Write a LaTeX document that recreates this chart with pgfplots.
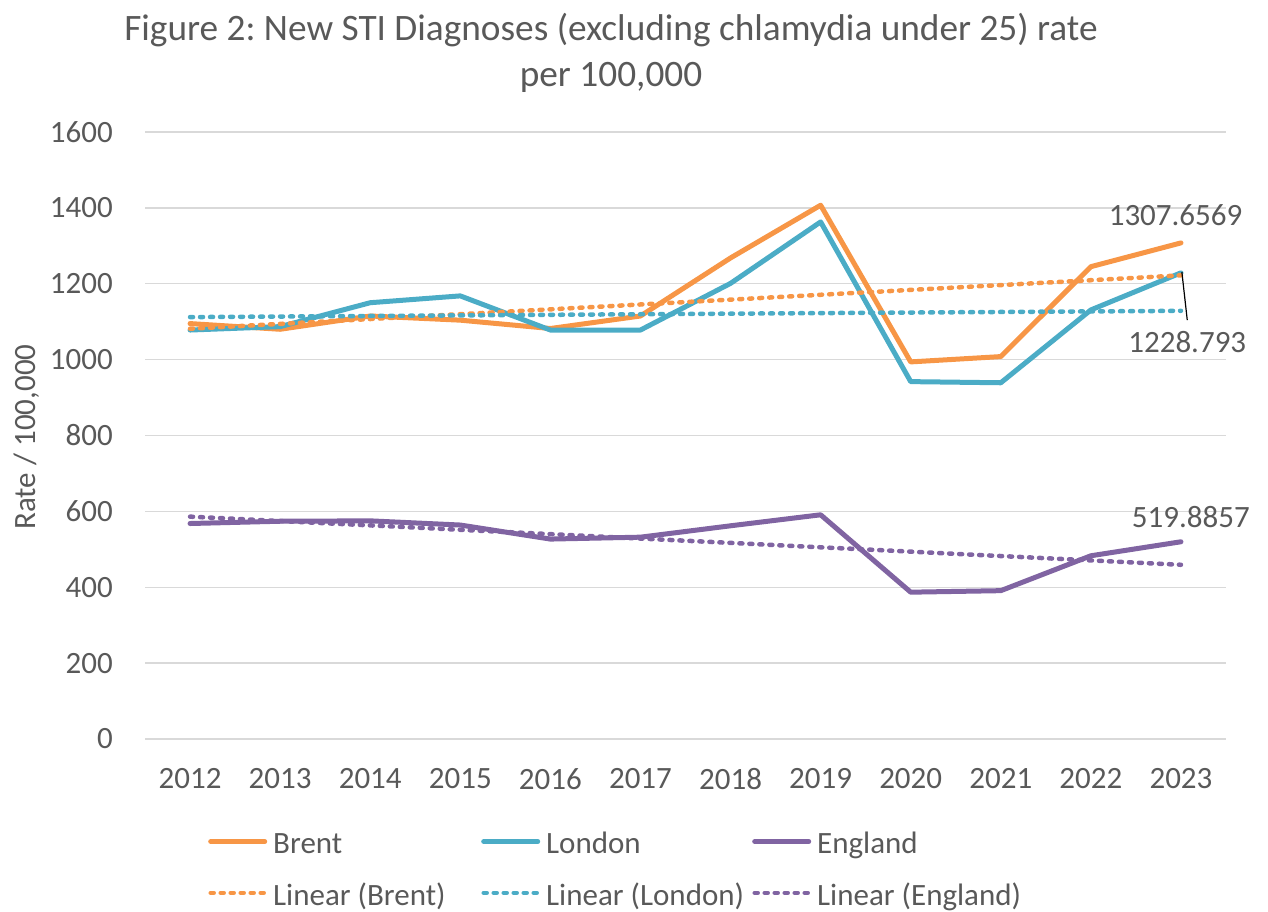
\documentclass[border=0pt]{standalone}
\usepackage{pgfplots}
\pgfplotsset{compat=1.18}
\usepackage{fontspec}
\setmainfont{Carlito}
\frenchspacing
\definecolor{cBrent}{HTML}{F79646}
\definecolor{cLondon}{HTML}{4BACC6}
\definecolor{cEngland}{HTML}{8064A2}
\definecolor{cText}{HTML}{595959}
\definecolor{cGrid}{HTML}{D9D9D9}
\begin{document}
\begin{tikzpicture}
\useasboundingbox (0,0) rectangle (1268pt,911pt);
\node[align=center, text=cText, font=\fontsize{37.3}{46}\selectfont, inner sep=0pt] at (611pt,858pt) {Figure 2: New STI Diagnoses (excluding chlamydia under 25) rate\\per 100,000};
\begin{axis}[
  at={(145pt,172pt)}, anchor=south west,
  scale only axis, width=1081pt, height=607pt,
  xmin=2011.5, xmax=2023.5, ymin=0, ymax=1600,
  xtick={2012,2013,...,2023}, ytick={0,200,...,1600},
  /pgf/number format/1000 sep={},
  /pgf/number format/assume math mode=true,
  ymajorgrids, grid style={cGrid, line width=1.5pt},
  axis line style={draw=none}, major tick length=0pt,
  tick label style={font=\fontsize{31}{37}\selectfont, text=cText, inner sep=0pt},
  yticklabel style={xshift=-32pt},
  xticklabel style={yshift=-29pt},
  ylabel={Rate / 100,000},
  every axis y label/.style={at={(axis description cs:-0.109,0.4975)}, rotate=90, anchor=center, font=\fontsize{31}{37}\selectfont, text=cText},
  clip=false,
  legend columns=3, legend cell align=left,
  legend image code/.code={\draw[#1] (0pt,0pt) -- (54pt,0pt);},
  legend style={at={(0.0583,-0.146)}, anchor=north west, draw=none, fill=none, inner sep=0pt,
    font=\fontsize{31}{37}\selectfont, text=cText, nodes={inner sep=0pt, anchor=west},
    row sep=24pt, column sep=0pt},
]
\addplot[cBrent, line width=5pt, line join=round, line cap=round] coordinates {
 (2012,1095) (2013,1080) (2014,1115) (2015,1104) (2016,1082) (2017,1115)
 (2018,1268) (2019,1407) (2020,994) (2021,1008) (2022,1245) (2023,1307.6569)};
\addlegendentry{\makebox[214pt][l]{\hspace{6pt}Brent\strut}}
\addplot[cLondon, line width=5pt, line join=round, line cap=round] coordinates {
 (2012,1078) (2013,1087) (2014,1150) (2015,1168) (2016,1078) (2017,1078)
 (2018,1201) (2019,1363) (2020,942) (2021,939) (2022,1131) (2023,1228.793)};
\addlegendentry{\makebox[212pt][l]{\hspace{6pt}London\strut}}
\addplot[cEngland, line width=5pt, line join=round, line cap=round] coordinates {
 (2012,568) (2013,574) (2014,575) (2015,564) (2016,527) (2017,532)
 (2018,562) (2019,591) (2020,387) (2021,391) (2022,483) (2023,519.8857)};
\addlegendentry{\makebox[212pt][l]{\hspace{6pt}England\strut}}
\addplot[cBrent, line width=4.5pt, line cap=round, dash pattern=on 3pt off 7pt] coordinates {(2012,1081.4) (2023,1222.1)};
\addlegendentry{\makebox[214pt][l]{\hspace{6pt}Linear (Brent)\strut}}
\addplot[cLondon, line width=4.5pt, line cap=round, dash pattern=on 3pt off 7pt] coordinates {(2012,1112.1) (2023,1128.6)};
\addlegendentry{\makebox[212pt][l]{\hspace{6pt}Linear (London)\strut}}
\addplot[cEngland, line width=4.5pt, line cap=round, dash pattern=on 3pt off 7pt] coordinates {(2012,586.1) (2023,459.2)};
\addlegendentry{\makebox[212pt][l]{\hspace{6pt}Linear (England)\strut}}
\node[text=cText, font=\fontsize{31}{37}\selectfont, inner sep=0pt] at (axis cs:2022.94,1381) {1307.6569};
\node[text=cText, font=\fontsize{31}{37}\selectfont, inner sep=0pt] at (axis cs:2023.07,1046) {1228.793};
\node[text=cText, font=\fontsize{31}{37}\selectfont, inner sep=0pt] at (axis cs:2023.11,585) {519.8857};
\draw[black, line width=1.2pt] (axis cs:2023.01,1231) -- (axis cs:2023.07,1104);
\end{axis}
\end{tikzpicture}
\end{document}
